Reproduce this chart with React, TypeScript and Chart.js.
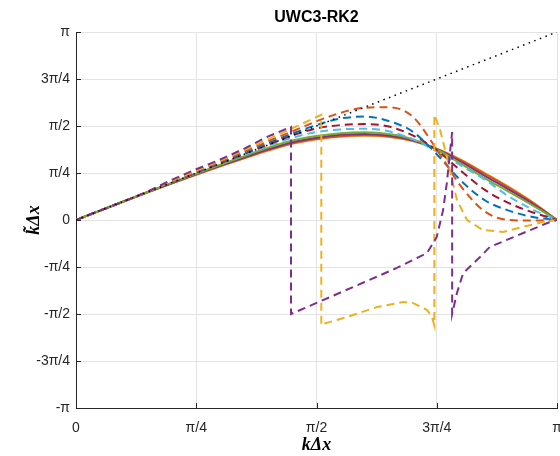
import React, { useEffect, useRef } from "react";
import { Chart, registerables } from "chart.js";

Chart.register(...registerables);

// All values in units of π
const TITLE = "UWC3-RK2";
const X_TITLE = "kΔx";
const Y_TITLE = "k̃Δx";

const xTickValues = [0, 0.25, 0.5, 0.75, 1];
const xTickLabels = ["0", "π/4", "π/2", "3π/4", "π"];
const yTickValues = [-1, -0.75, -0.5, -0.25, 0, 0.25, 0.5, 0.75, 1];
const yTickLabels = ["-π", "-3π/4", "-π/2", "-π/4", "0", "π/4", "π/2", "3π/4", "π"];

const exactX = [0, 1];
const exactY = [0, 1];

const xGrid = [0, 0.05, 0.1, 0.15, 0.2, 0.25, 0.3, 0.35, 0.4, 0.45, 0.5, 0.55, 0.6, 0.65, 0.7, 0.75, 0.8, 0.85, 0.9, 0.95, 1];

// solid curves
const solidGreen = [0, 0.05, 0.1, 0.15, 0.199, 0.247, 0.294, 0.34, 0.385, 0.423, 0.447, 0.462, 0.467, 0.458, 0.43, 0.375, 0.3, 0.222, 0.15, 0.077, 0];
const solidPurple = [0, 0.05, 0.1, 0.149, 0.197, 0.244, 0.29, 0.334, 0.377, 0.414, 0.438, 0.453, 0.458, 0.45, 0.425, 0.377, 0.31, 0.235, 0.162, 0.085, 0];
const solidOrange = [0, 0.05, 0.1, 0.149, 0.196, 0.242, 0.287, 0.33, 0.372, 0.408, 0.431, 0.446, 0.451, 0.444, 0.421, 0.378, 0.318, 0.246, 0.172, 0.091, 0];
const solidYellow = [0, 0.05, 0.1, 0.149, 0.195, 0.241, 0.285, 0.328, 0.369, 0.405, 0.428, 0.443, 0.448, 0.442, 0.42, 0.379, 0.321, 0.25, 0.176, 0.094, 0];

// dashed smooth curves
const dashOrange = [0, 0.05, 0.1, 0.15, 0.203, 0.258, 0.31, 0.365, 0.42, 0.472, 0.525, 0.57, 0.597, 0.6, 0.55, 0.375, 0.18, 0.045, 0, -0.003, 0];
const dashBlue = [0, 0.05, 0.1, 0.15, 0.2, 0.254, 0.305, 0.357, 0.41, 0.46, 0.505, 0.54, 0.55, 0.527, 0.47, 0.35, 0.21, 0.105, 0.05, 0.016, 0];
const dashRed = [0, 0.05, 0.1, 0.15, 0.2, 0.252, 0.302, 0.352, 0.402, 0.45, 0.487, 0.505, 0.51, 0.497, 0.45, 0.372, 0.262, 0.16, 0.09, 0.04, 0];
const dashLightBlue = [0, 0.05, 0.1, 0.15, 0.2, 0.25, 0.3, 0.348, 0.395, 0.437, 0.468, 0.482, 0.485, 0.472, 0.43, 0.365, 0.29, 0.215, 0.125, 0.055, 0];

// dashed curves with jumps
const dashPurpleX = [0, 0.1, 0.15, 0.2, 0.25, 0.3, 0.35, 0.4, 0.447, 0.447, 0.51, 0.6, 0.667, 0.73, 0.75, 0.763, 0.771, 0.778, 0.782, 0.782, 0.792, 0.805, 0.84, 0.86, 0.93, 0.98, 1];
const dashPurpleY = [0, 0.1, 0.152, 0.215, 0.27, 0.322, 0.38, 0.445, 0.495, -0.5, -0.43, -0.33, -0.255, -0.175, -0.09, 0.05, 0.197, 0.372, 0.468, -0.5, -0.388, -0.282, -0.197, -0.144, -0.069, -0.016, 0];

const dashYellowX = [0, 0.1, 0.15, 0.2, 0.25, 0.3, 0.35, 0.4, 0.45, 0.5, 0.51, 0.51, 0.514, 0.563, 0.626, 0.68, 0.7, 0.73, 0.74, 0.745, 0.745, 0.757, 0.771, 0.782, 0.792, 0.813, 0.846, 0.888, 0.929, 0.971, 1];
const dashYellowY = [0, 0.1, 0.151, 0.21, 0.263, 0.316, 0.372, 0.43, 0.488, 0.548, 0.56, -0.56, -0.553, -0.516, -0.463, -0.436, -0.441, -0.479, -0.516, -0.56, 0.56, 0.479, 0.335, 0.213, 0.106, 0, -0.053, -0.064, -0.037, -0.011, 0];

const C = {
  blue: "#0072BD",
  orange: "#D95319",
  yellow: "#EDB120",
  purple: "#7E2F8E",
  green: "#77AC30",
  lightBlue: "#4DBEEE",
  red: "#A2142F",
};

function pts(xs: number[], ys: number[]) {
  return xs.map((x, i) => ({ x, y: ys[i] }));
}

function dashed(label: string, xs: number[], ys: number[], color: string, tension: number) {
  return {
    label,
    data: pts(xs, ys),
    borderColor: color,
    borderWidth: 2,
    borderDash: [8, 5],
    pointRadius: 0,
    showLine: true,
    fill: false,
    tension,
  };
}

function solid(label: string, ys: number[], color: string) {
  return {
    label,
    data: pts(xGrid, ys),
    borderColor: color,
    borderWidth: 2,
    pointRadius: 0,
    showLine: true,
    fill: false,
    cubicInterpolationMode: "monotone" as const,
  };
}

const inwardTicks = {
  id: "inwardTicks",
  afterDraw(chart: any) {
    const { ctx, chartArea } = chart;
    const xs = chart.scales.x;
    const ys = chart.scales.y;
    ctx.save();
    ctx.strokeStyle = "#262626";
    ctx.lineWidth = 1;
    ctx.beginPath();
    for (const v of yTickValues) {
      const py = Math.round(ys.getPixelForValue(v)) + 0.5;
      ctx.moveTo(chartArea.left, py);
      ctx.lineTo(chartArea.left + 5, py);
    }
    for (const v of xTickValues) {
      const px = Math.round(xs.getPixelForValue(v)) + 0.5;
      ctx.moveTo(px, chartArea.bottom);
      ctx.lineTo(px, chartArea.bottom - 5);
    }
    ctx.stroke();
    ctx.restore();
  },
};

export default function App() {
  const ref = useRef<HTMLCanvasElement | null>(null);

  useEffect(() => {
    if (!ref.current) return;
    const tickFont = { family: "'Liberation Sans', Arial, sans-serif", size: 14 };
    const axisTitleFont = { family: "'Liberation Serif', 'Times New Roman', serif", size: 18, weight: "bold" as const, style: "italic" as const };
    const chart = new Chart(ref.current, {
      type: "scatter",
      data: {
        datasets: [
          {
            label: "exact",
            data: pts(exactX, exactY),
            borderColor: "#000000",
            borderWidth: 1.5,
            borderDash: [1.5, 4.5],
            pointRadius: 0,
            showLine: true,
            fill: false,
          },
          dashed("purple dashed", dashPurpleX, dashPurpleY, C.purple, 0),
          dashed("yellow dashed", dashYellowX, dashYellowY, C.yellow, 0),
          { ...dashed("orange dashed", xGrid, dashOrange, C.orange, 0), cubicInterpolationMode: "monotone" as const },
          { ...dashed("blue dashed", xGrid, dashBlue, C.blue, 0), cubicInterpolationMode: "monotone" as const },
          { ...dashed("red dashed", xGrid, dashRed, C.red, 0), cubicInterpolationMode: "monotone" as const },
          { ...dashed("light blue dashed", xGrid, dashLightBlue, C.lightBlue, 0), cubicInterpolationMode: "monotone" as const },
          solid("green", solidGreen, C.green),
          solid("purple", solidPurple, C.purple),
          solid("orange", solidOrange, C.orange),
          solid("yellow", solidYellow, C.yellow),
        ],
      },
      options: {
        responsive: false,
        animation: false,
        devicePixelRatio: 1,
        layout: { padding: { top: 0, right: 3, left: 0, bottom: 0 }, autoPadding: false },
        plugins: {
          legend: { display: false },
          tooltip: { enabled: false },
          title: {
            display: true,
            text: TITLE,
            fullSize: false,
            color: "#000000",
            font: { family: "'Liberation Sans', Arial, sans-serif", size: 16, weight: "bold" },
            padding: { top: 7.5, bottom: 5.3 },
          },
        },
        scales: {
          x: {
            type: "linear",
            min: 0,
            max: 1,
            afterBuildTicks: (s: any) => {
              s.ticks = xTickValues.map((v) => ({ value: v }));
            },
            afterFit: (s: any) => {
              s.height = 48;
              s.paddingLeft = 0;
              s.paddingRight = 0;
            },
            ticks: {
              callback: (v: any) => {
                const i = xTickValues.indexOf(Number(v));
                return i >= 0 ? xTickLabels[i] : "";
              },
              font: tickFont,
              color: "#262626",
              padding: 12,
              maxRotation: 0,
              autoSkip: false,
            },
            grid: { color: "#e3e3e3", drawTicks: false },
            border: { display: true, color: "#262626", width: 1 },
            title: { display: true, text: X_TITLE, font: axisTitleFont, color: "#000000", padding: { top: 0, bottom: 0 } },
          },
          y: {
            type: "linear",
            min: -1,
            max: 1,
            afterBuildTicks: (s: any) => {
              s.ticks = yTickValues.map((v) => ({ value: v }));
            },
            afterFit: (s: any) => {
              s.width = 76;
              s.paddingTop = 0;
              s.paddingBottom = 0;
            },
            ticks: {
              callback: (v: any) => {
                const i = yTickValues.indexOf(Number(v));
                return i >= 0 ? yTickLabels[i] : "";
              },
              font: tickFont,
              color: "#262626",
              padding: 6,
              autoSkip: false,
            },
            grid: { color: "#e3e3e3", drawTicks: false },
            border: { display: true, color: "#262626", width: 1 },
            title: { display: true, text: Y_TITLE, font: axisTitleFont, color: "#000000", padding: { top: 24, bottom: 0 } },
          },
        },
      },
      plugins: [inwardTicks],
    });
    return () => chart.destroy();
  }, []);

  return (
    <div style={{ position: "fixed", left: 0, top: 0, width: 560, height: 456, background: "#ffffff" }}>
      <canvas ref={ref} width={560} height={456} style={{ width: 560, height: 456, display: "block" }} />
    </div>
  );
}
